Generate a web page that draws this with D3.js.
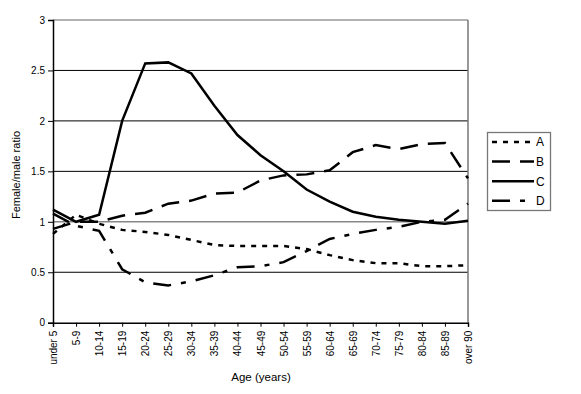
<!DOCTYPE html>
<html><head><meta charset="utf-8">
<script src="https://cdn.jsdelivr.net/npm/d3@7"></script>
<style>body{margin:0;background:#fff;} svg{display:block;font-family:"Liberation Sans",Arial,sans-serif;}</style>
</head><body>
<svg id="c" width="581" height="394"></svg>
<script>
const categories = ["under 5","5-9","10-14","15-19","20-24","25-29","30-34","35-39","40-44","45-49","50-54","55-59","60-64","65-69","70-74","75-79","80-84","85-89","over 90"];
const seriesA = [0.88,1.07,0.98,0.92,0.90,0.87,0.82,0.77,0.76,0.76,0.76,0.73,0.67,0.62,0.59,0.59,0.56,0.56,0.57];
const seriesB = [0.93,1.00,1.00,1.06,1.09,1.18,1.21,1.28,1.29,1.41,1.46,1.47,1.51,1.69,1.76,1.72,1.77,1.78,1.43];
const seriesC = [1.12,1.00,1.07,2.00,2.57,2.58,2.47,2.15,1.86,1.66,1.50,1.32,1.20,1.10,1.05,1.02,1.00,0.98,1.01];
const seriesD = [1.08,0.96,0.91,0.53,0.40,0.37,0.41,0.47,0.55,0.56,0.60,0.71,0.83,0.88,0.92,0.95,1.00,1.02,1.18];
const seriesNames = ["A","B","C","D"];
const yTicks = [0,0.5,1,1.5,2,2.5,3];

const dashes = {A:"5,6", B:"18,10", C:null, D:"18,10,5,10"};
const svg = d3.select("#c");
const L=53, R=468, T=20, B=322.7;
const x = d3.scalePoint().domain(categories).range([L,R]);
const y = d3.scaleLinear().domain([0,3]).range([B,T]);

// gridlines
svg.append("g").selectAll("line").data(yTicks.filter(d=>d>0)).join("line")
  .attr("x1",L).attr("x2",R).attr("y1",d=>y(d)).attr("y2",d=>y(d))
  .attr("stroke",d=>d===3?"#666":(d===1?"#888":"#000"))
  .attr("stroke-width",d=>d===1?1.5:1);
// right border
svg.append("line").attr("x1",R).attr("x2",R).attr("y1",T).attr("y2",B).attr("stroke","#777").attr("stroke-width",1.5);

// y axis
const ya = svg.append("g").attr("transform",`translate(${L},0)`)
  .call(d3.axisLeft(y).tickValues(yTicks).tickSize(5).tickPadding(3).tickFormat(d3.format("")));
ya.select(".domain").attr("stroke","#000").attr("stroke-width",1.5);
ya.selectAll("text").attr("font-size",10).attr("fill","#000").attr("font-family","Liberation Sans, Arial, sans-serif");

// x axis
const xa = svg.append("g").attr("transform",`translate(0,${B})`)
  .call(d3.axisBottom(x).tickSize(4).tickPadding(3));
xa.select(".domain").attr("stroke","#000").attr("stroke-width",1.5);
xa.selectAll("text").attr("font-size",10).attr("fill","#000").attr("font-family","Liberation Sans, Arial, sans-serif")
  .attr("transform","rotate(-90)").attr("text-anchor","end").attr("dy","0.35em").attr("x",-8).attr("y",0);

// lines
const data = {A:seriesA,B:seriesB,C:seriesC,D:seriesD};
const line = d3.line().x((d,i)=>x(categories[i])).y(d=>y(d));
seriesNames.forEach(n=>{
  svg.append("path").datum(data[n]).attr("d",line).attr("fill","none")
    .attr("stroke","#000").attr("stroke-width",2.5)
    .attr("stroke-dasharray",dashes[n]);
});

// axis titles
svg.append("text").attr("x",261).attr("y",381).attr("text-anchor","middle").attr("font-size",11.5).text("Age (years)");
svg.append("text").attr("transform","translate(20,175) rotate(-90)").attr("text-anchor","middle").attr("font-size",11).text("Female/male ratio");

// legend
const lg = svg.append("g");
lg.append("rect").attr("x",487.5).attr("y",132.5).attr("width",63).attr("height",78).attr("fill","#fff").attr("stroke","#777").attr("stroke-width",1.3);
seriesNames.forEach((n,i)=>{
  const yy = 142 + i*19.6;
  lg.append("line").attr("x1",492).attr("x2",534).attr("y1",yy).attr("y2",yy)
    .attr("stroke","#000").attr("stroke-width",2.5).attr("stroke-dasharray",dashes[n]);
  lg.append("text").attr("x",536).attr("y",yy).attr("dy","0.36em").attr("font-size",12).text(n);
});
</script>
</body></html>
